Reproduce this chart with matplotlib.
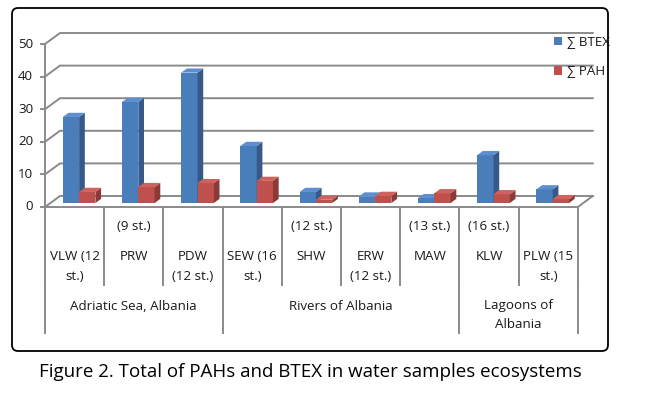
import matplotlib
matplotlib.use("Agg")
import matplotlib.pyplot as plt
from matplotlib.patches import Polygon, FancyBboxPatch
from matplotlib.transforms import IdentityTransform

# ---------------- data ----------------
sites = ["VLW", "PRW", "PDW", "SEW", "SHW", "ERW", "MAW", "KLW", "PLW"]
site_labels = [
    ["", "VLW (12", "st.)"],
    ["(9 st.)", "PRW", ""],
    ["", "PDW", "(12 st.)"],
    ["", "SEW (16", "st.)"],
    ["(12 st.)", "SHW", ""],
    ["", "ERW", "(12 st.)"],
    ["(13 st.)", "MAW", ""],
    ["(16 st.)", "KLW", ""],
    ["", "PLW (15", "st.)"],
]
groups = ["Adriatic Sea, Albania", "Rivers of Albania", "Lagoons of\nAlbania"]
group_sizes = [3, 4, 2]
btex = [26.4, 31.0, 40.0, 17.5, 3.4, 2.0, 1.5, 14.7, 4.2]
pah = [3.4, 4.9, 6.1, 6.8, 1.0, 2.2, 3.0, 2.7, 1.2]
series_names = ["\u2211 BTEX", "\u2211 PAH"]
yticks = [0, 10, 20, 30, 40, 50]

# ---------------- layout ----------------
W, H = 649, 399
fig = plt.figure(figsize=(W / 100, H / 100), dpi=100)
ax = fig.add_axes([0, 0, 1, 1])
ax.set_axis_off()

PXC = 59.2   # pixels per category
PXV = 3.26   # pixels per value unit
X0, Y0 = 45, 207  # pixel of origin (front)
ax.set_xlim(-X0 / PXC, (W - X0) / PXC)
ax.set_ylim(-(H - Y0) / PXV, Y0 / PXV)

def py(yp):
    return (Y0 - yp) / PXV

DX = 15 / PXC
DY = 11 / PXV
n = len(sites)
font = "Open Sans"
fs = 9.6
tcol = "#1a1a1a"
gcol = "#8a8a8a"

# floor
ax.add_patch(Polygon([(0, 0), (n, 0), (n + DX, DY), (DX, DY)], closed=True,
                     facecolor="white", edgecolor="none", zorder=1))
# gridlines on back wall + left wall diagonals
for v in yticks:
    ax.plot([0, DX, n + DX], [v, v + DY, v + DY], color=gcol, lw=1.4, zorder=1.5)
ax.plot([n, n + DX], [0, DY], color=gcol, lw=1.4, zorder=1.5)
# left axis & ticks
ax.plot([0, 0], [0, yticks[-1]], color=gcol, lw=1.4, zorder=2)
tk = 4 / PXC
for v in yticks:
    ax.plot([-tk, 0], [v, v], color=gcol, lw=1.4, zorder=2)
    ax.text(-12 / PXC, v, str(v), ha="right", va="center", fontsize=fs,
            family=font, color=tcol)

# bars
blue = ("#4a7ebb", "#36598a", "#5d8fd0")
red = ("#c0504d", "#8c3a38", "#d0625e")
d0, d1 = 0.36, 0.74
bw = 0.275
offs = [0.21, 0.21 + bw]
for vals, off, (cf, cs, ct), name in zip([btex, pah], offs, [blue, red], series_names):
    xs = [i + off + d0 * DX for i in range(n)]
    ax.bar(xs, vals, width=bw, bottom=d0 * DY, align="edge", color=cf,
           edgecolor="none", zorder=3, label=name)
    dd = d1 - d0
    for x, v in zip(xs, vals):
        b = d0 * DY
        xr = x + bw
        ax.add_patch(Polygon([(xr, b), (xr, b + v), (xr + dd * DX, b + v + dd * DY),
                              (xr + dd * DX, b + dd * DY)], closed=True,
                             facecolor=cs, edgecolor="none", zorder=3))
        ax.add_patch(Polygon([(x, b + v), (xr, b + v), (xr + dd * DX, b + v + dd * DY),
                              (x + dd * DX, b + v + dd * DY)], closed=True,
                             facecolor=ct, edgecolor="none", zorder=3))

# front floor edge
ax.plot([0, n], [0, 0], color=gcol, lw=1.4, zorder=4)

# category axis, level 1
y_sep1 = py(285)
y_sep2 = py(333)
for i in range(n + 1):
    ax.plot([i, i], [0, y_sep1], color=gcol, lw=1.4, zorder=4)
row_y = [py(227), py(257), py(276)]
for i, lines in enumerate(site_labels):
    for ln, yy in zip(lines, row_y):
        if ln:
            ax.text(i + 0.5, yy, ln, ha="center", va="center", fontsize=fs,
                    family=font, color=tcol)
# level 2
start = 0
bounds = [0]
for g, s in zip(groups, group_sizes):
    bounds.append(start + s)
    for k, ln in enumerate(g.split("\n")):
        ax.text(start + s / 2, py(306 + 18 * k), ln, ha="center", va="center",
                fontsize=fs, family=font, color=tcol)
    start += s
for b in bounds:
    ax.plot([b, b], [y_sep1, y_sep2], color=gcol, lw=1.4, zorder=4)

# legend
fig.legend(loc="upper left", bbox_to_anchor=(547 / W, 1 - 29 / H),
           frameon=False, prop={"family": font, "size": fs},
           handlelength=0.65, handleheight=0.65, handletextpad=0.35,
           labelspacing=1.25, borderpad=0, labelcolor=tcol)

# outer rounded frame
frame = FancyBboxPatch((12, H - 351), 596, 343,
                       boxstyle="round,pad=0,rounding_size=6",
                       transform=IdentityTransform(), facecolor="none",
                       edgecolor="black", lw=1.3)
fig.patches.append(frame)

# caption
fig.text(310 / W, 1 - 372 / H, "Figure 2. Total of PAHs and BTEX in water samples ecosystems",
         ha="center", va="center", fontsize=13.5, family=font, color="black")

fig.savefig("out.png", dpi=100)
